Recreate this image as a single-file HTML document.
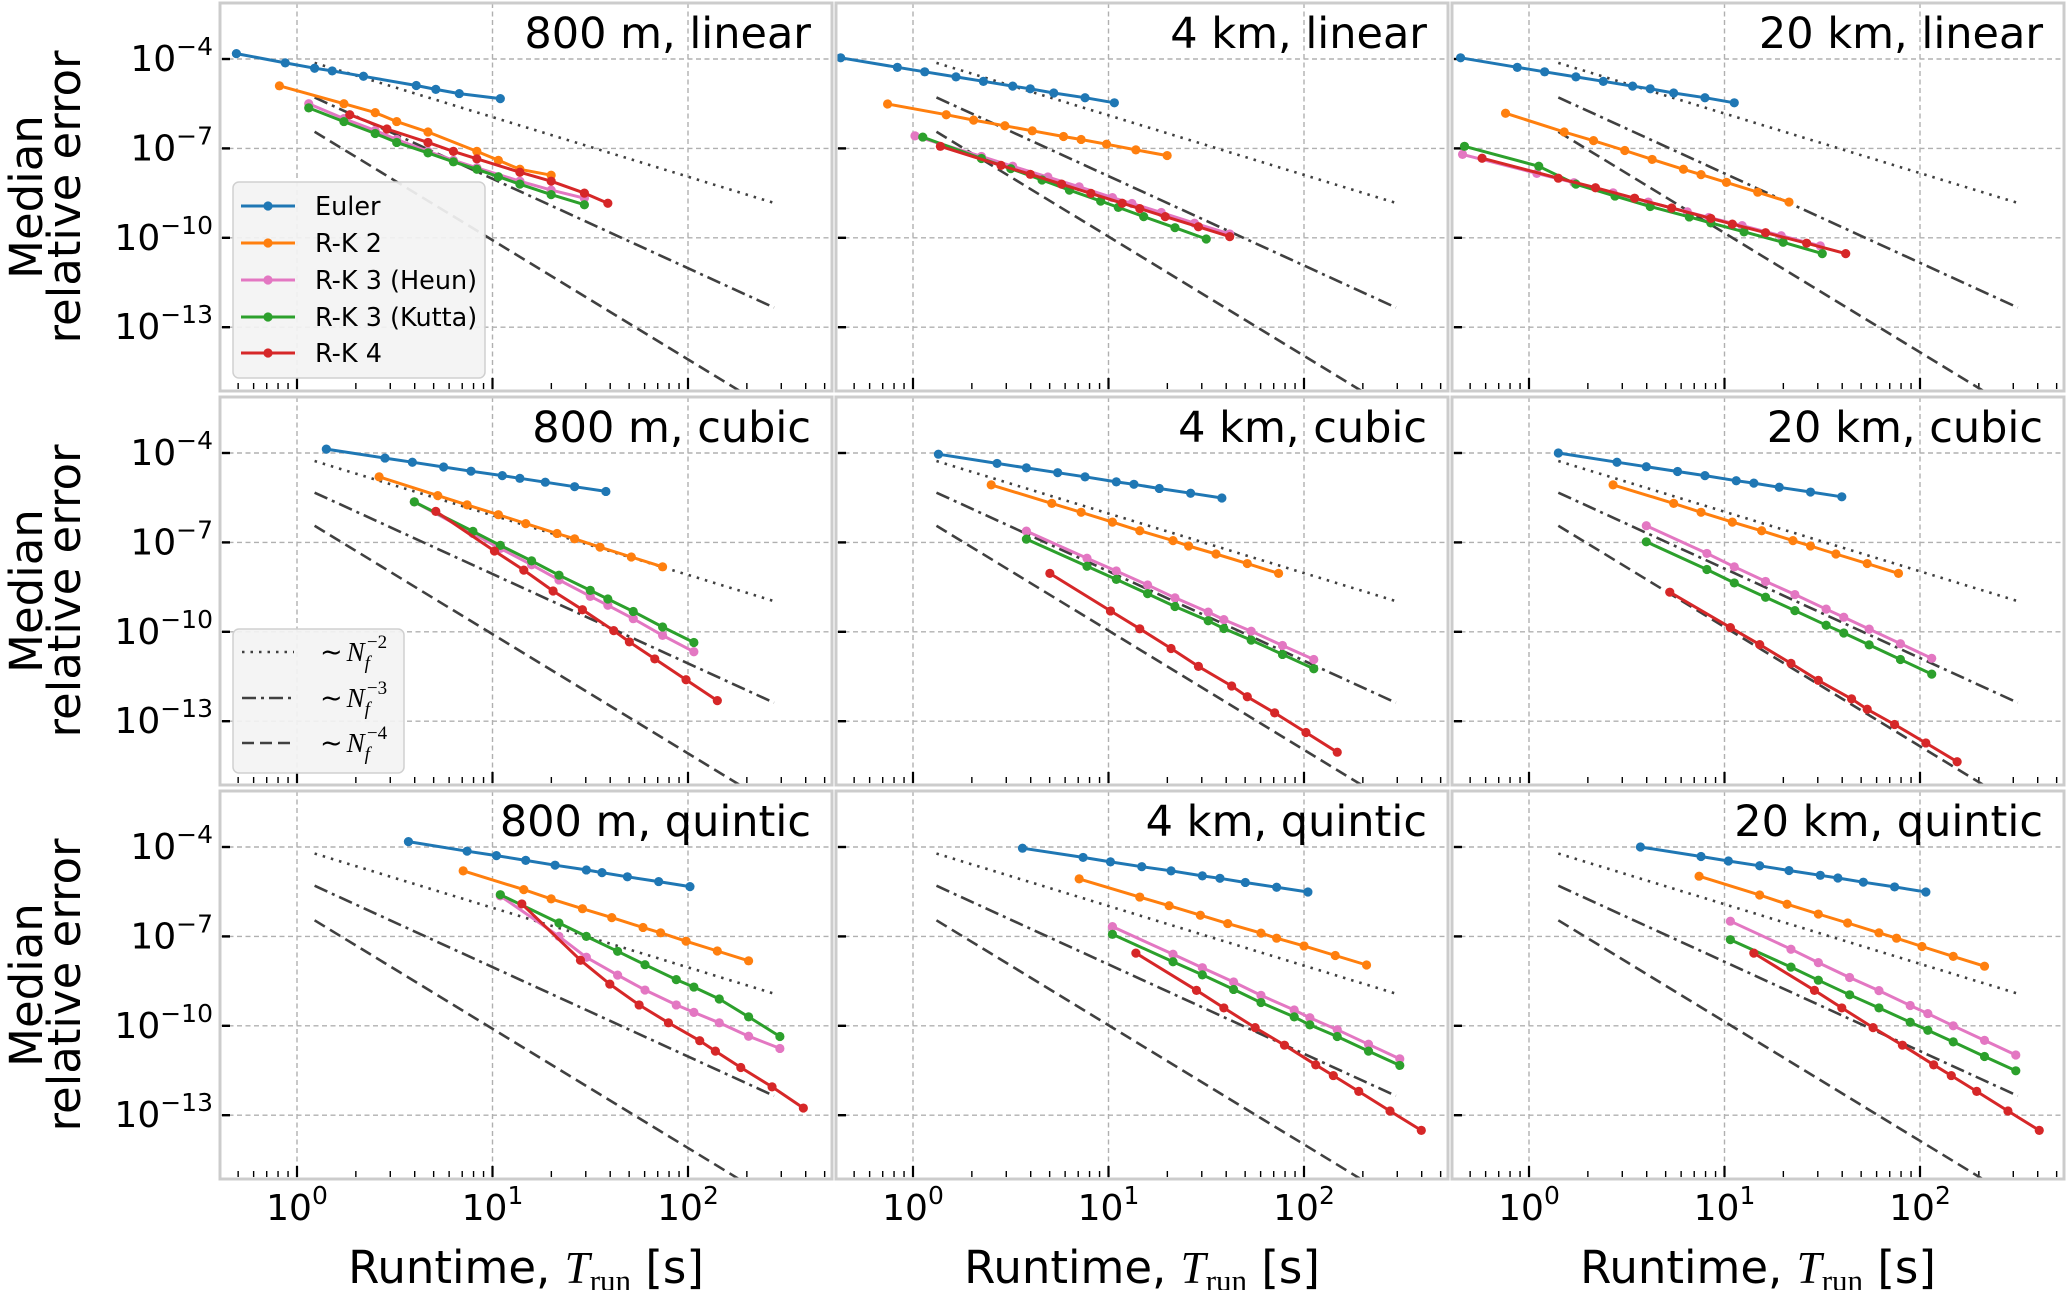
<!DOCTYPE html>
<html><head><meta charset="utf-8"><title>Median relative error vs runtime</title>
<style>html,body{margin:0;padding:0;background:#fff;}svg{display:block;font-family:"DejaVu Sans","Liberation Sans",sans-serif;}</style>
</head><body>
<svg id="chart" xmlns="http://www.w3.org/2000/svg" width="2067" height="1290" viewBox="0 0 2067 1290"></svg>
<script>
// ---- data (log10 runtime [s], log10 median relative error), one sub-array per panel ----
const TITLES = ["800 m, linear","4 km, linear","20 km, linear","800 m, cubic","4 km, cubic","20 km, cubic","800 m, quintic","4 km, quintic","20 km, quintic"];
const SERIES_NAMES = ["Euler","R-K 2","R-K 3 (Heun)","R-K 3 (Kutta)","R-K 4"];
const X_TICKS = [0,1,2];
const Y_TICKS = [-4,-7,-10,-13];
const REF_ORDERS = [2,3,4];
const REF_X = [[0.09,2.44],[0.12,2.47],[0.15,2.5]];
const REF_Y0 = [[-4.13,-5.29,-6.44],[-4.27,-5.33,-6.44],[-4.22,-5.3,-6.46]];

const X_EULER = [
 [-0.31,-0.06,0.09,0.18,0.34,0.61,0.71,0.83,1.04],
 [-0.37,-0.08,0.06,0.22,0.36,0.51,0.60,0.72,0.88,1.03],
 [-0.35,-0.06,0.08,0.24,0.38,0.53,0.62,0.74,0.9,1.05],
 [0.15,0.45,0.59,0.75,0.89,1.05,1.14,1.27,1.42,1.58],
 [0.13,0.43,0.58,0.74,0.88,1.04,1.13,1.26,1.42,1.58],
 [0.15,0.45,0.6,0.76,0.9,1.06,1.15,1.28,1.44,1.6],
 [0.57,0.87,1.02,1.17,1.32,1.48,1.56,1.69,1.85,2.01],
 [0.56,0.87,1.01,1.17,1.32,1.48,1.57,1.70,1.86,2.02],
 [0.57,0.88,1.02,1.18,1.33,1.49,1.58,1.71,1.87,2.03]];
const Y_EULER = [
 [-3.82,-4.13,-4.31,-4.4,-4.58,-4.89,-5.02,-5.16,-5.33],
 [-3.96,-4.28,-4.43,-4.6,-4.75,-4.91,-5.0,-5.14,-5.3,-5.47],
 [-3.96,-4.28,-4.43,-4.6,-4.75,-4.91,-5.0,-5.14,-5.3,-5.47],
 [-3.87,-4.17,-4.31,-4.47,-4.61,-4.76,-4.85,-4.98,-5.13,-5.29],
 [-4.04,-4.35,-4.5,-4.66,-4.8,-4.97,-5.05,-5.19,-5.35,-5.51],
 [-4.0,-4.31,-4.46,-4.62,-4.76,-4.93,-5.01,-5.15,-5.31,-5.47],
 [-3.82,-4.14,-4.29,-4.45,-4.61,-4.77,-4.86,-5.0,-5.16,-5.33],
 [-4.04,-4.35,-4.5,-4.66,-4.8,-4.97,-5.05,-5.19,-5.35,-5.51],
 [-4.0,-4.32,-4.47,-4.63,-4.79,-4.95,-5.04,-5.18,-5.34,-5.51]];
const X_RK2 = [
 [-0.09,0.24,0.40,0.51,0.67,0.92,1.03,1.14,1.30],
 [-0.13,0.17,0.31,0.47,0.61,0.77,0.86,0.99,1.14,1.30],
 [-0.12,0.18,0.33,0.49,0.63,0.79,0.88,1.01,1.17,1.33],
 [0.42,0.72,0.87,1.03,1.17,1.33,1.42,1.55,1.71,1.87],
 [0.40,0.71,0.86,1.02,1.16,1.33,1.41,1.55,1.71,1.87],
 [0.43,0.74,0.88,1.04,1.19,1.35,1.44,1.57,1.73,1.89],
 [0.85,1.16,1.30,1.46,1.61,1.77,1.86,1.99,2.15,2.31],
 [0.85,1.16,1.31,1.47,1.61,1.78,1.86,2.00,2.16,2.32],
 [0.87,1.18,1.32,1.48,1.63,1.79,1.88,2.01,2.17,2.33]];
const Y_RK2 = [
 [-4.9,-5.5,-5.8,-6.1,-6.45,-7.1,-7.4,-7.7,-7.9],
 [-5.51,-5.87,-6.05,-6.24,-6.41,-6.6,-6.7,-6.86,-7.05,-7.24],
 [-5.82,-6.45,-6.74,-7.07,-7.37,-7.7,-7.88,-8.14,-8.47,-8.8],
 [-4.8,-5.43,-5.74,-6.07,-6.37,-6.7,-6.88,-7.16,-7.49,-7.82],
 [-5.07,-5.69,-5.99,-6.32,-6.61,-6.94,-7.12,-7.39,-7.71,-8.04],
 [-5.07,-5.69,-5.99,-6.32,-6.61,-6.94,-7.12,-7.39,-7.71,-8.04],
 [-4.8,-5.43,-5.74,-6.07,-6.37,-6.7,-6.88,-7.16,-7.49,-7.82],
 [-5.07,-5.68,-5.97,-6.29,-6.57,-6.89,-7.06,-7.32,-7.64,-7.96],
 [-4.98,-5.61,-5.92,-6.25,-6.55,-6.88,-7.06,-7.34,-7.67,-8.0]];
const X_HEUN = [
 [0.06,0.24,0.40,0.51,0.67,0.80,0.92,1.14,1.30,1.47],
 [0.01,0.35,0.51,0.69,0.85,1.02,1.12,1.27,1.44,1.62],
 [-0.34,0.04,0.23,0.43,0.61,0.81,0.92,1.09,1.29,1.49],
 [0.60,0.90,1.04,1.20,1.34,1.50,1.59,1.72,1.87,2.03],
 [0.58,0.89,1.04,1.20,1.34,1.51,1.59,1.73,1.89,2.05],
 [0.6,0.91,1.05,1.21,1.36,1.52,1.61,1.74,1.9,2.06],
 [1.04,1.34,1.48,1.64,1.78,1.94,2.03,2.16,2.31,2.47],
 [1.02,1.33,1.48,1.64,1.78,1.95,2.03,2.17,2.33,2.49],
 [1.03,1.34,1.48,1.64,1.79,1.95,2.04,2.17,2.33,2.49]];
const Y_HEUN = [
 [-5.5,-6.0,-6.4,-6.7,-7.1,-7.4,-7.65,-8.1,-8.4,-8.67],
 [-6.58,-7.27,-7.6,-7.96,-8.29,-8.65,-8.85,-9.15,-9.51,-9.87],
 [-7.2,-7.84,-8.15,-8.49,-8.8,-9.13,-9.32,-9.59,-9.93,-10.27],
 [-5.64,-6.7,-7.2,-7.75,-8.26,-8.81,-9.11,-9.56,-10.12,-10.67],
 [-6.62,-7.53,-7.96,-8.43,-8.86,-9.34,-9.59,-9.98,-10.46,-10.93],
 [-6.44,-7.37,-7.82,-8.31,-8.75,-9.24,-9.51,-9.91,-10.4,-10.89],
 [-5.64,-7.0,-7.7,-8.3,-8.8,-9.3,-9.55,-9.9,-10.35,-10.76],
 [-6.67,-7.6,-8.05,-8.53,-8.98,-9.47,-9.73,-10.13,-10.62,-11.11],
 [-6.49,-7.43,-7.88,-8.38,-8.82,-9.32,-9.59,-10.0,-10.49,-10.98]];
const X_KUTTA = [
 [0.06,0.24,0.40,0.51,0.67,0.80,0.92,1.03,1.14,1.30,1.47],
 [0.05,0.35,0.50,0.66,0.80,0.96,1.05,1.18,1.34,1.50],
 [-0.33,0.05,0.24,0.44,0.62,0.82,0.93,1.1,1.3,1.5],
 [0.60,0.90,1.04,1.20,1.34,1.50,1.59,1.72,1.87,2.03],
 [0.58,0.89,1.04,1.20,1.34,1.51,1.59,1.73,1.89,2.05],
 [0.6,0.91,1.05,1.21,1.36,1.52,1.61,1.74,1.9,2.06],
 [1.04,1.34,1.48,1.64,1.78,1.94,2.03,2.16,2.31,2.47],
 [1.02,1.33,1.48,1.64,1.78,1.95,2.03,2.17,2.33,2.49],
 [1.03,1.34,1.48,1.64,1.79,1.95,2.04,2.17,2.33,2.49]];
const Y_KUTTA = [
 [-5.64,-6.1,-6.5,-6.8,-7.15,-7.45,-7.7,-7.95,-8.2,-8.55,-8.89],
 [-6.62,-7.34,-7.68,-8.06,-8.4,-8.77,-8.98,-9.29,-9.66,-10.04],
 [-6.93,-7.6,-8.2,-8.6,-8.95,-9.3,-9.5,-9.8,-10.15,-10.53],
 [-5.64,-6.63,-7.1,-7.62,-8.1,-8.61,-8.9,-9.32,-9.84,-10.36],
 [-6.89,-7.8,-8.24,-8.72,-9.15,-9.63,-9.89,-10.28,-10.76,-11.24],
 [-6.98,-7.91,-8.36,-8.84,-9.29,-9.78,-10.04,-10.44,-10.93,-11.42],
 [-5.6,-6.55,-7.0,-7.5,-7.95,-8.45,-8.7,-9.1,-9.7,-10.36],
 [-6.93,-7.85,-8.29,-8.78,-9.22,-9.7,-9.97,-10.36,-10.85,-11.33],
 [-7.11,-8.03,-8.47,-8.96,-9.4,-9.88,-10.15,-10.54,-11.03,-11.51]];
const X_RK4 = [
 [0.27,0.46,0.67,0.80,0.92,1.14,1.30,1.47,1.59],
 [0.14,0.45,0.60,0.76,0.91,1.07,1.16,1.29,1.46,1.62],
 [-0.24,0.15,0.34,0.54,0.73,0.93,1.04,1.21,1.42,1.62],
 [0.71,1.01,1.16,1.31,1.46,1.62,1.70,1.83,1.99,2.15],
 [0.70,1.01,1.16,1.32,1.46,1.63,1.71,1.85,2.01,2.17],
 [0.72,1.03,1.18,1.34,1.48,1.65,1.73,1.87,2.03,2.19],
 [1.15,1.45,1.60,1.75,1.90,2.06,2.14,2.27,2.43,2.59],
 [1.14,1.45,1.59,1.75,1.90,2.06,2.15,2.28,2.44,2.60],
 [1.15,1.46,1.6,1.76,1.91,2.07,2.16,2.29,2.45,2.61]];
const Y_RK4 = [
 [-5.87,-6.35,-6.8,-7.1,-7.35,-7.8,-8.1,-8.5,-8.84],
 [-6.93,-7.57,-7.87,-8.2,-8.51,-8.84,-9.02,-9.29,-9.63,-9.96],
 [-7.33,-8.0,-8.32,-8.67,-9.0,-9.35,-9.54,-9.83,-10.18,-10.53],
 [-5.96,-7.29,-7.93,-8.63,-9.26,-9.96,-10.34,-10.91,-11.61,-12.31],
 [-8.04,-9.3,-9.9,-10.56,-11.16,-11.82,-12.18,-12.72,-13.38,-14.04],
 [-8.67,-9.86,-10.43,-11.06,-11.63,-12.25,-12.6,-13.11,-13.73,-14.36],
 [-5.91,-7.8,-8.6,-9.3,-9.9,-10.5,-10.85,-11.4,-12.05,-12.76],
 [-7.56,-8.81,-9.4,-10.06,-10.65,-11.31,-11.67,-12.2,-12.86,-13.51],
 [-7.56,-8.81,-9.4,-10.06,-10.65,-11.31,-11.67,-12.2,-12.86,-13.51]];

const SERIES_X = [X_EULER, X_RK2, X_HEUN, X_KUTTA, X_RK4];
const SERIES_Y = [Y_EULER, Y_RK2, Y_HEUN, Y_KUTTA, Y_RK4];
const COLORS = ["#1f77b4","#ff7f0e","#e377c2","#2ca02c","#d62728"];
const SERIES_KEYS = ["euler","rk2","rk3-heun","rk3-kutta","rk4"];

// ---- layout ----
const COL_LEFT = [220, 836, 1452], ROW_TOP = [3, 397, 791];
const PW = 612, PH = 388, X0OFF = 77, XDEC = 195.5, Y4OFF = 56, YDEC = 29.8;
function xS(c, v) { return COL_LEFT[c] + X0OFF + v * XDEC; }
function yS(r, v) { return ROW_TOP[r] + Y4OFF + (-4 - v) * YDEC; }

const NS = "http://www.w3.org/2000/svg";
const svg = document.getElementById("chart");
function mk(tag, attrs, parent) {
  const e = document.createElementNS(NS, tag);
  for (const k in attrs) e.setAttribute(k, attrs[k]);
  (parent || svg).appendChild(e);
  return e;
}
const defs = mk("defs", {});

for (let p = 0; p < 9; p++) {
  const r = Math.floor(p / 3), c = p % 3;
  const L = COL_LEFT[c], T = ROW_TOP[r];
  const g = mk("g", {});
  
  
  const cp = mk("clipPath", {id: "clip" + p}, defs);
  mk("rect", {x: L, y: T, width: PW, height: PH}, cp);

  X_TICKS.forEach(v => {
    const gl = mk("line", {x1: xS(c, v), x2: xS(c, v), y1: T, y2: T + PH, stroke: "#b0b0b0", "stroke-width": 1.4, "stroke-dasharray": "5,3.5"}, g);
    
    
  });
  Y_TICKS.forEach(v => {
    const gl = mk("line", {x1: L, x2: L + PW, y1: yS(r, v), y2: yS(r, v), stroke: "#b0b0b0", "stroke-width": 1.4, "stroke-dasharray": "5,3.5"}, g);
    
    
  });

  for (let d = -1; d <= 2; d++) {
    for (let m = 1; m <= 9; m++) {
      const v = d + Math.log10(m);
      const x = xS(c, v);
      if (x < L + 3 || x > L + PW - 3) continue;
      const len = m === 1 ? 11 : 6;
      const t = mk("line", {x1: x, x2: x, y1: T + PH - 2, y2: T + PH - 2 - len, stroke: "#000", "stroke-width": m === 1 ? 2.2 : 1.4}, g);
      
      
    }
  }
  Y_TICKS.forEach(v => {
    const t = mk("line", {x1: L + 2, x2: L + 10, y1: yS(r, v), y2: yS(r, v), stroke: "#000", "stroke-width": 2.4}, g);
    
    
  });

  const dashes = ["2.5,6", "14,5,3,5", "12,6"];
  const refNames = ["ref-line-order-2", "ref-line-order-3", "ref-line-order-4"];
  REF_ORDERS.forEach((k, i) => {
    const xa = REF_X[c][0], xb = REF_X[c][1];
    const y0 = REF_Y0[r][i];
    const y1 = y0 - k * (xb - xa);
    const ln = mk("line", {x1: xS(c, xa), y1: yS(r, y0), x2: xS(c, xb), y2: yS(r, y1), stroke: "#404040", "stroke-width": 2.6, "stroke-dasharray": dashes[i], "clip-path": "url(#clip" + p + ")"}, g);
    
    
  });

  for (let s = 0; s < 5; s++) {
    const xs = SERIES_X[s][p], ys = SERIES_Y[s][p];
    const pts = xs.map((v, i) => xS(c, v).toFixed(1) + "," + yS(r, ys[i]).toFixed(1)).join(" ");
    const sg = mk("g", {"clip-path": "url(#clip" + p + ")"}, g);
    
    
    const pl = mk("polyline", {points: pts, fill: "none", stroke: COLORS[s], "stroke-width": 3, "stroke-linejoin": "round"}, sg);
    
    
    xs.forEach((v, i) => {
      const dot = mk("circle", {cx: xS(c, v), cy: yS(r, ys[i]), r: 4.6, fill: COLORS[s]}, sg);
      
      
    });
  }

  const fr = mk("rect", {x: L, y: T, width: PW, height: PH, fill: "none", stroke: "#cccccc", "stroke-width": 3}, g);
  
  

  const tt = mk("text", {x: L + 591, y: T + 45, "text-anchor": "end", "font-size": 43, fill: "#000"}, g);
  tt.textContent = TITLES[p];
  
  

  if (c === 0) {
    Y_TICKS.forEach(v => {
      const lab = mk("text", {x: 213, y: yS(r, v) + 12, "text-anchor": "end", "font-size": 36, fill: "#000"});
      
      
      const a = mk("tspan", {}, lab); a.textContent = "10";
      const b = mk("tspan", {dy: -16, "font-size": 25}, lab); b.textContent = "\u2212" + Math.abs(v);
    });
  }
  if (r === 2) {
    X_TICKS.forEach(v => {
      const lab = mk("text", {x: xS(c, v), y: 1220, "text-anchor": "middle", "font-size": 36, fill: "#000"});
      
      
      const a = mk("tspan", {}, lab); a.textContent = "10";
      const b = mk("tspan", {dy: -16, "font-size": 25}, lab); b.textContent = String(v);
    });
    const xl = mk("text", {x: L + PW / 2, y: 1283, "text-anchor": "middle", "font-size": 45, fill: "#000"});
    
    
    const t1 = mk("tspan", {}, xl); t1.textContent = "Runtime, ";
    const t2 = mk("tspan", {"font-family": "Liberation Serif, serif", "font-style": "italic"}, xl); t2.textContent = "T";
    const t3 = mk("tspan", {"font-family": "Liberation Serif, serif", "font-size": 31, dy: 8}, xl); t3.textContent = "run";
    const t4 = mk("tspan", {dy: -8}, xl); t4.textContent = " [s]";
  }
  if (c === 0) {
    const cy = T + PH / 2;
    const yl = mk("text", {transform: "translate(42," + cy + ") rotate(-90)", "text-anchor": "middle", "font-size": 45, fill: "#000"});
    
    
    const a = mk("tspan", {x: 0, dy: 0}, yl); a.textContent = "Median";
    const b = mk("tspan", {x: 0, dy: 38}, yl); b.textContent = "relative error";
  }
}

const lg1 = mk("g", {});


mk("rect", {x: 233, y: 182, width: 252, height: 196, rx: 6, fill: "#f3f3f3", "fill-opacity": 0.92, stroke: "#d0d0d0", "stroke-width": 1.5}, lg1);
const legY1 = [206, 243, 280, 317, 353];
SERIES_NAMES.forEach((n, i) => {
  const e = mk("g", {}, lg1);
  
  
  mk("line", {x1: 241, x2: 295, y1: legY1[i], y2: legY1[i], stroke: COLORS[i], "stroke-width": 3}, e);
  mk("circle", {cx: 268, cy: legY1[i], r: 4.6, fill: COLORS[i]}, e);
  const t = mk("text", {x: 315, y: legY1[i] + 9, "font-size": 25.5, fill: "#000"}, e);
  t.textContent = n;
});

const lg2 = mk("g", {});


mk("rect", {x: 233, y: 629, width: 171, height: 144, rx: 6, fill: "#f3f3f3", "fill-opacity": 0.92, stroke: "#d0d0d0", "stroke-width": 1.5}, lg2);
const legY2 = [652, 698, 743];
const legDash = ["2.5,6", "14,5,3,5", "12,6"];
REF_ORDERS.forEach((k, i) => {
  const e = mk("g", {}, lg2);
  
  
  mk("line", {x1: 242, x2: 294, y1: legY2[i], y2: legY2[i], stroke: "#404040", "stroke-width": 2.6, "stroke-dasharray": legDash[i]}, e);
  const t = mk("text", {x: 320, y: legY2[i] + 9, "font-size": 27, "font-family": "Liberation Serif, serif", fill: "#000"}, e);
  const a = mk("tspan", {}, t); a.textContent = "\u223C";
  const b = mk("tspan", {"font-style": "italic", dx: 4}, t); b.textContent = "N";
  const s1 = mk("tspan", {"font-style": "italic", "font-size": 19, dy: 8}, t); s1.textContent = "f";
  const s2 = mk("tspan", {"font-size": 19, dy: -21, dx: -3}, t); s2.textContent = "\u2212" + k;
});
</script>
</body></html>
